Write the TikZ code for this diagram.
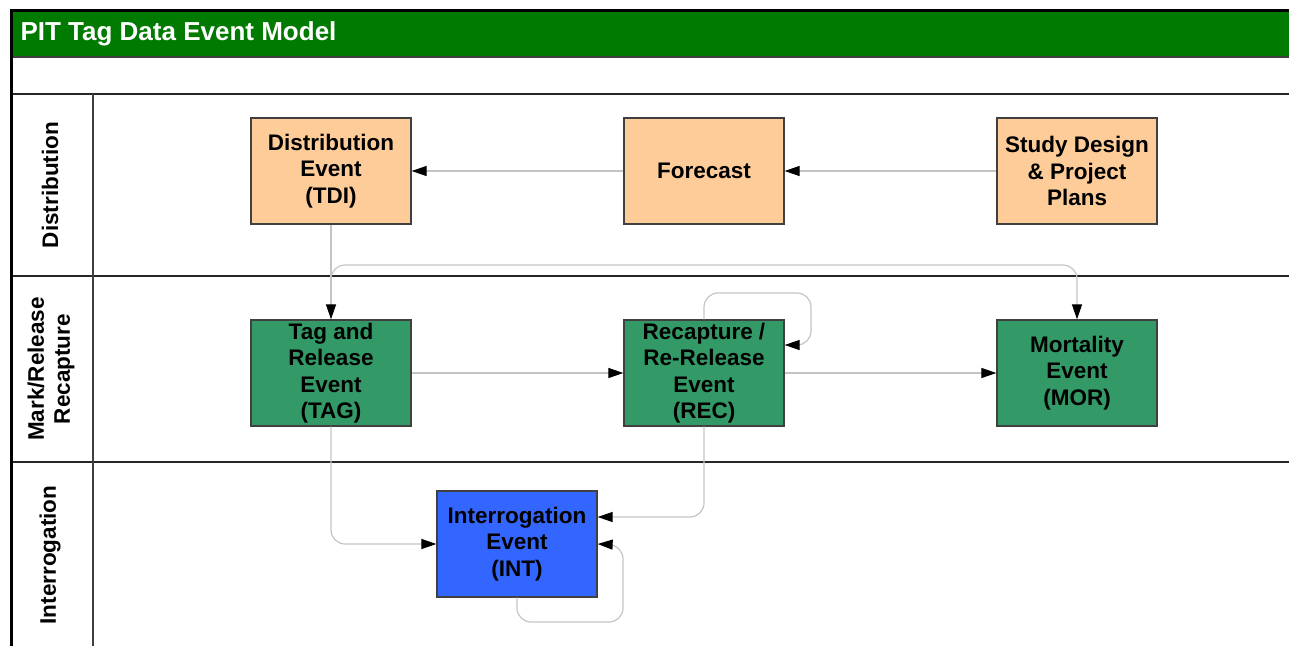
\documentclass[tikz,border=0pt]{standalone}
\usepackage{fontspec}
\setmainfont{Liberation Sans}
\usetikzlibrary{arrows.meta}

\definecolor{titlegreen}{RGB}{0,122,0}
\definecolor{peach}{RGB}{253,204,153}
\definecolor{evgreen}{RGB}{51,153,102}
\definecolor{evblue}{RGB}{51,102,255}
\definecolor{flowgray}{RGB}{196,196,196}
\definecolor{edgegray}{RGB}{64,64,64}

\begin{document}
\begin{tikzpicture}[x=1pt,y=-1pt,
  event/.style={draw=edgegray, line width=1.3pt, minimum width=160pt,
    minimum height=106pt, align=center, inner sep=0pt,
    font=\fontsize{22.5}{26.5}\selectfont\bfseries},
  plan/.style={event, fill=peach},
  field/.style={event, fill=evgreen},
  detect/.style={event, fill=evblue},
  flow/.style={draw=flowgray, line width=1.2pt, rounded corners=14pt,
    -{Triangle[length=15pt,width=10pt,color=black]}},
  lane/.style={rotate=90, align=center,
    font=\fontsize{22.5}{26}\selectfont\bfseries},
  rule/.style={draw=black!85, line width=2pt},
  thinrule/.style={draw=black!75, line width=1.4pt}
]
\useasboundingbox (0,0) rectangle (1289,645);
\clip (0,0) rectangle (1289,645);

% swimlane frame
\fill[titlegreen] (11,11) rectangle (1295,57);
\draw[thinrule] (11,57) -- (1295,57);
\draw[rule] (11,94) -- (1295,94);
\draw[rule] (11,276) -- (1295,276);
\draw[rule] (11,462) -- (1295,462);
\draw[thinrule] (93,94) -- (93,650);
\draw[draw=black, line width=3pt] (11,650) -- (11,10.5) -- (1295,10.5);

\node[anchor=west, text=white, font=\fontsize{26}{30}\selectfont\bfseries]
  (title) at (17,34) {PIT Tag Data Event Model};

% lane labels
\node[lane] (lDist) at (50,185) {Distribution};
\node[lane] (lMark) at (51,369) {Mark/Release\\Recapture};
\node[lane] (lInt)  at (50,555) {Interrogation};

% events
\node[plan]  (TDI)   at (331,171)  {Distribution\\Event\\(TDI)};
\node[plan]  (FC)    at (704,171)  {Forecast};
\node[plan]  (STUDY) at (1077,171) {Study Design\\\& Project\\Plans};
\node[field] (TAG)   at (331,373)  {Tag and\\Release\\Event\\(TAG)};
\node[field] (REC)   at (704,373)  {Recapture /\\Re-Release\\Event\\(REC)};
\node[field] (MOR)   at (1077,373) {Mortality\\Event\\(MOR)};
\node[detect](INT)   at (517,544)  {Interrogation\\Event\\(INT)};

% connectors
\draw[flow] (STUDY) -- (FC);
\draw[flow] (FC) -- (TDI);
\draw[flow] (TDI) -- (TAG);
\coordinate (split) at (331,300);
\draw[flow] (split) -- (331,265) -- (1077,265) -- (MOR.north);
\draw[flow] (TAG) -- (REC);
\draw[flow] (REC) -- (MOR);
\draw[flow] (REC.north) -- (704,293) -- (811,293) -- (811,345) -- ([yshift=28pt]REC.east);
\draw[flow] (TAG.south) |- (INT.west);
\draw[flow] (REC.south) |- ([yshift=27pt]INT.east);
\draw[flow] (INT.south) -- (517,622) -- (623,622) -- (623,545) -- (INT.east);
\end{tikzpicture}
\end{document}
